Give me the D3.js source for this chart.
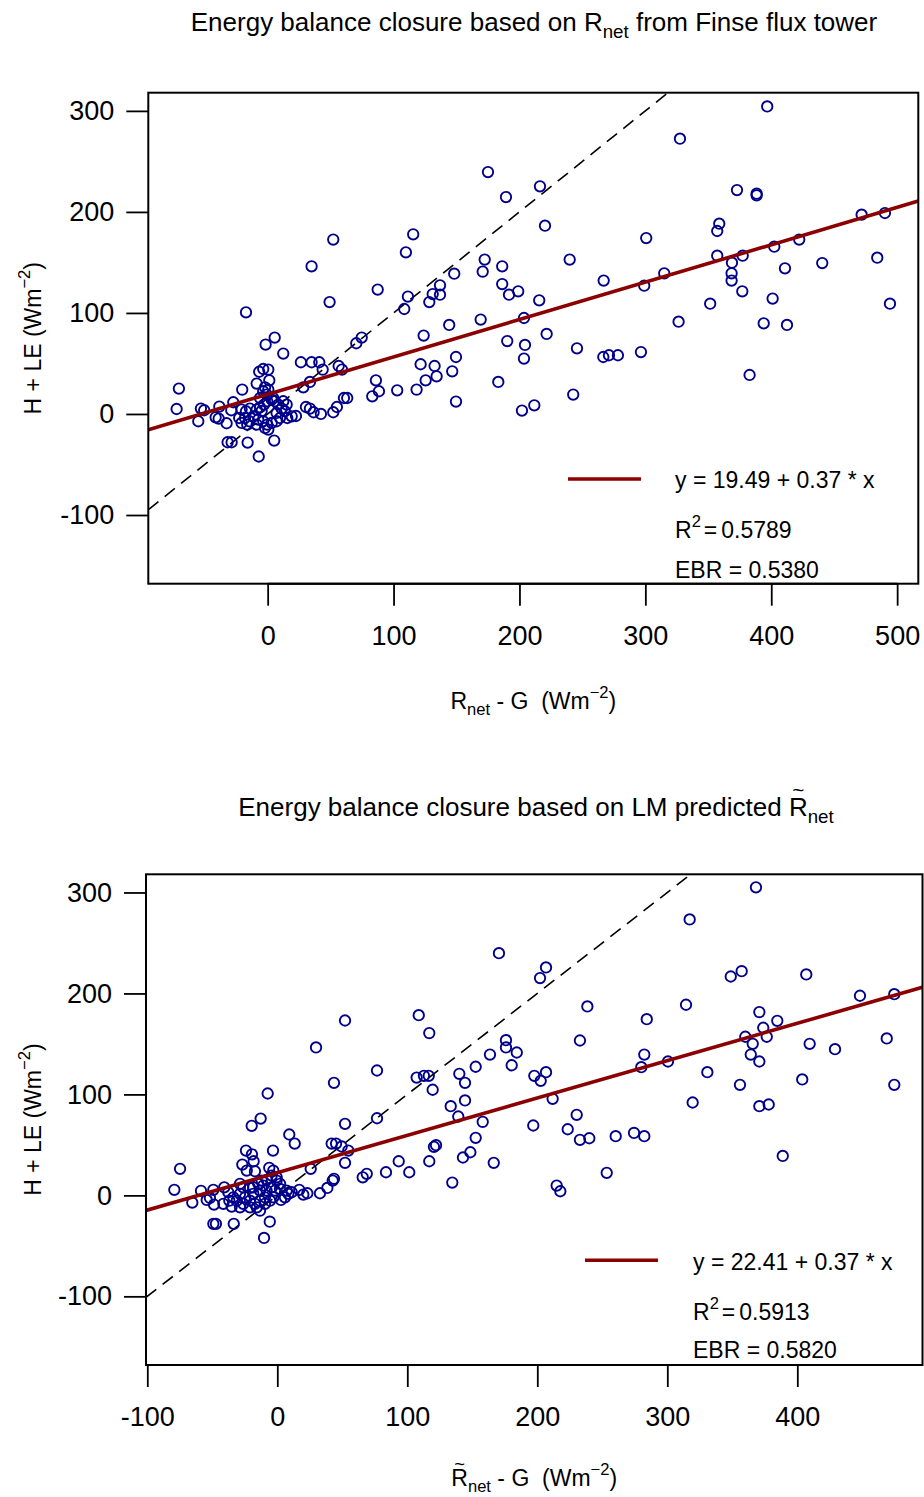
<!DOCTYPE html>
<html>
<head>
<meta charset="utf-8">
<script src="https://cdn.jsdelivr.net/npm/d3@7"></script>
<style>
body { margin: 0; background: #fff; }
svg text { font-family: "Liberation Sans", Arial, sans-serif; white-space: pre; }
</style>
</head>
<body>
<div id="chart"></div>
<script>
var svgWidth = 924;
var svgHeight = 1497;

// tick values
var xTicksTop = [0, 100, 200, 300, 400, 500];
var xTicksBottom = [-100, 0, 100, 200, 300, 400];
var yTicks = [-100, 0, 100, 200, 300];

// axis limits (R style, 4% padded)
var xLimTop = [-94.8, 516.8];
var xLimBottom = [-101, 496.3];
var yLim = [-168, 318];

// regression fits: intercept, slope
var fitTop = [19.49, 0.37];
var fitBottom = [22.41, 0.37];

// R2, EBR
var statsTop = ["0.5789", "0.5380"];
var statsBottom = ["0.5913", "0.5820"];

// [Rnet - G, H + LE] from flux tower
var finsePoints = [[396.8,304.4],[327.5,272.5],[175.0,239.4],[216.3,225.3],[189.3,214.7],[372.8,221.6],[388.4,218.1],[388.4,216.4],
  [115.6,177.8],[109.8,160.0],[52.1,172.6],[34.9,146.1],[49.2,110.8],[87.4,123.1],[-17.2,100.6],[172.4,152.8],[170.8,140.9],
  [186.3,146.1],[186.3,128.6],[191.7,118.1],[199.0,121.4],[148.2,138.9],[136.9,127.3],[136.9,118.1],[131.1,118.7],[128.4,110.8],
  [111.4,116.2],[108.5,103.9],[215.7,112.5],[144.2,88.1],[169.2,93.4],[123.9,77.6],[203.6,95.0],[190.3,72.2],[204.4,68.3],
  [203.6,54.8],[149.6,56.4],[121.5,49.2],[132.6,47.5],[134.2,37.3],[146.6,42.2],[125.5,33.3],[183.2,31.7],[86.0,33.3],
  [74.7,75.6],[70.4,70.0],[5.6,75.6],[-1.6,68.7],[12.4,59.8],[26.4,51.2],[34.9,51.2],[41.0,51.2],[43.7,43.9],[56.4,47.5],
  [59.0,43.9],[-3.5,44.5],[0.5,43.9],[-6.7,41.8],[1.3,33.3],[-8.7,30.1],[33.6,31.7],[28.3,26.4],[-70.5,25.1],[-20.2,24.1],
  [88.4,22.5],[102.9,23.4],[118.3,24.1],[220.3,186.4],[300.7,174.1],[239.9,152.8],[266.9,132.0],[315.0,139.2],[299.1,127.0],
  [358.7,188.4],[357.1,181.1],[357.1,156.7],[368.8,149.8],[377.3,156.7],[368.5,139.2],[368.5,132.0],[377.0,121.4],[402.4,165.6],
  [422.2,172.6],[410.9,144.2],[440.5,149.4],[471.8,197.3],[490.3,198.9],[484.2,154.7],[401.1,114.2],[351.5,109.2],[494.3,109.2],
  [326.4,91.4],[394.0,89.7],[412.5,88.1],[221.6,79.2],[245.7,65.0],[266.6,56.4],[271.1,58.1],[278.2,58.1],[296.5,61.3],
  [382.8,38.6],[242.7,19.2],[202.0,3.4],[211.8,8.6],[149.6,12.3],[83.1,17.5],[-72.3,4.9],[-53.0,5.3],[-50.4,3.7],[-55.1,-7.2],
  [-38.4,7.3],[-41.3,-3.3],[-38.9,-4.6],[-32.6,-9.2],[-27.3,11.6],[-28.9,3.7],[-31.8,-28.0],[-28.6,-28.0],[-15.9,-28.3],
  [-7.1,-42.1],[5.2,-26.3],[22.5,-2.0],[30.4,6.9],[33.6,5.3],[36.5,1.7],[42.3,0.0],[52.1,1.7],[55.0,6.9],[60.6,15.8],[63.2,15.8],
  [-2.1,26.4],[0.5,24.1],[-3.5,22.5],[-20.7,4.4],[-17.2,2.7],[-14.1,5.3],[-8.7,4.4],[-6.1,6.6],[-2.9,9.3],[-0.3,12.6],[3.2,14.2],
  [5.8,12.6],[8.4,9.3],[11.1,5.3],[13.7,2.7],[15.6,-4.0],[-18.0,-4.0],[-14.6,-7.2],[-20.7,-8.9],[-11.4,-2.3],[-7.5,-5.5],
  [-3.5,-7.2],[-0.3,-10.5],[3.2,-8.9],[7.1,-7.2],[9.8,-4.0],[-2.1,-13.9],[-8.7,-10.5],[0.5,-15.4],[-16.2,-10.5],[-22.6,-4.0],
  [7.1,1.0],[-6.1,15.8],[-0.8,19.2],[4.4,15.8],[12.4,12.6],[15.1,9.3],[19.1,-2.3],[-4.8,3.0]];

// [LM predicted Rnet - G, H + LE]
var lmPoints = [[170.5,239.9],[202.1,215.2],[206.7,225.8],[108.8,178.5],[116.9,160.7],[52.1,173.2],[29.8,146.5],[43.6,111.5],
  [76.7,123.7],[-7.4,100.9],[175.9,153.7],[175.9,146.5],[184.2,141.5],[180.3,128.9],[163.6,139.5],[152.6,127.4],[140.0,120.4],
  [144.4,111.5],[107.2,116.7],[112.8,118.4],[116.5,118.4],[119.5,104.6],[197.7,118.4],[202.6,113.5],[133.4,88.3],[144.4,94.0],
  [139.2,78.1],[158.0,72.8],[196.9,69.2],[152.6,57.0],[148.5,42.7],[142.8,37.5],[166.5,32.2],[120.5,48.1],[122.1,49.7],
  [116.9,33.8],[93.4,33.8],[76.7,76.4],[52.1,70.9],[52.1,32.2],[41.8,51.3],[45.2,51.3],[49.5,48.4],[54.6,44.4],[-12.8,76.1],
  [-19.7,68.9],[9.2,60.3],[13.4,51.3],[-3.3,44.4],[-24.1,44.4],[-19.5,40.7],[-18.2,33.8],[-26.9,30.5],[-74.8,26.3],[-6.2,27.3],
  [-79.2,5.5],[-58.7,4.5],[-49.2,5.5],[-40.8,8.0],[-65.4,-7.1],[-54.3,-4.5],[-51.8,-2.5],[-48.7,-9.1],[-41.5,-8.4],[-36.9,-5.2],
  [-35.1,-11.1],[-49.2,-28.2],[-47.2,-28.2],[-33.5,-28.2],[-10.2,-42.1],[-5.8,-26.0],[-23.5,24.6],[-17.2,23.9],[-3.1,24.6],
  [-4.3,19.6],[2.1,6.4],[7.2,4.8],[11.1,3.1],[16.9,5.5],[20.0,0.8],[23.1,2.1],[32.8,2.1],[38.5,7.4],[42.6,14.7],[43.6,16.4],
  [25.7,26.3],[65.7,17.9],[68.8,21.3],[83.6,22.9],[101.5,22.9],[134.6,12.7],[2.8,-4.5],[5.9,-1.9],[8.5,1.5],[368.2,305.1],
  [317.2,273.3],[348.8,216.8],[357.2,222.1],[406.9,218.8],[238.5,187.1],[284.2,174.5],[314.4,188.8],[448.2,197.7],[474.6,199.3],
  [370.8,181.5],[384.6,172.9],[373.8,166.0],[360.0,157.1],[365.7,150.1],[376.5,157.1],[364.2,139.5],[370.8,132.6],[409.5,150.1],
  [429.0,144.8],[468.8,155.4],[232.8,153.4],[282.3,139.5],[280.0,127.0],[300.5,132.6],[330.8,122.0],[355.9,109.5],[403.8,114.8],
  [474.6,109.5],[206.7,122.0],[211.8,95.6],[319.5,92.0],[370.8,88.3],[378.0,90.0],[230.3,79.8],[223.4,65.5],[232.8,55.0],
  [240.0,56.6],[260.3,58.6],[274.4,61.9],[282.3,58.6],[388.8,39.1],[253.4,22.3],[214.9,9.7],[217.7,4.1],[-28.7,1.5],[-24.8,-1.9],
  [-21.0,-5.2],[-17.2,-8.4],[-13.3,-5.2],[-9.5,-1.9],[-5.6,-5.2],[-3.1,-1.9],[-26.2,-8.4],[-31.2,-5.2],[-18.5,1.5],[-13.3,4.8],
  [-8.2,4.8],[-4.3,8.0],[-10.8,9.7],[-18.5,8.0],[-15.8,-11.8],[-1.8,4.8],[2.1,11.4],[-0.5,17.9],[-28.7,11.4],[-26.2,8.0],
  [-21.0,7.4],[-14.6,11.4],[-12.0,14.7],[-8.2,15.4],[-0.5,14.7],[-28.7,-11.8],[-21.0,-11.8],[-9.5,-8.4],[-33.8,-1.9],[-37.7,3.1],
  [-13.3,-15.1]];

var pointColor = "#00008B";
var fitColor = "#8B0000";
var tickFont = 27;
var labFont = 23;
var titleFont = 26;

var svg = d3.select("#chart")
  .append("svg")
  .attr("width", svgWidth)
  .attr("height", svgHeight)
  .style("background", "#fff");

// text with sub / superscript pieces
function richText(sel, parts, size) {
  var shift = 0;
  parts.forEach(function(p) {
    var t = sel.append("tspan").text(p[0]);
    var target = 0;
    if (p[1] == "sub") { target = size * 0.26; t.attr("font-size", size * 0.72); }
    if (p[1] == "sup") { target = -size * 0.48; t.attr("font-size", size * 0.72); }
    if (target != shift) t.attr("dy", target - shift);
    if (p[2]) t.attr("dx", p[2]);
    shift = target;
  });
}

// put a tilde over char i of a text node
function addTilde(g, textSel, i, size) {
  var box = textSel.node().getExtentOfChar(i);
  g.append("text")
    .attr("x", box.x + box.width / 2)
    .attr("y", box.y + size * 0.2)
    .attr("text-anchor", "middle")
    .attr("font-size", size * 0.8)
    .text("~");
}

function drawPanel(o) {
  var g = svg.append("g");
  var x = d3.scaleLinear().domain(o.xLim).range([o.left, o.right]);
  var y = d3.scaleLinear().domain(yLim).range([o.bottom, o.top]);

  // clip for lines
  var clipId = "clip" + o.id;
  svg.append("clipPath").attr("id", clipId)
    .append("rect")
    .attr("x", o.left).attr("y", o.top)
    .attr("width", o.right - o.left).attr("height", o.bottom - o.top);

  // 1:1 line
  g.append("line")
    .attr("clip-path", "url(#" + clipId + ")")
    .attr("x1", x(o.xLim[0])).attr("y1", y(o.xLim[0]))
    .attr("x2", x(o.xLim[1])).attr("y2", y(o.xLim[1]))
    .attr("stroke", "#000")
    .attr("stroke-width", 1.6)
    .attr("stroke-dasharray", "13,8");

  // points
  g.append("g").selectAll("circle")
    .data(o.points)
    .enter()
    .append("circle")
    .attr("cx", d => x(d[0]))
    .attr("cy", d => y(d[1]))
    .attr("r", 5.2)
    .attr("fill", "none")
    .attr("stroke", pointColor)
    .attr("stroke-width", 1.9);

  // regression line
  g.append("line")
    .attr("clip-path", "url(#" + clipId + ")")
    .attr("x1", x(o.xLim[0])).attr("y1", y(o.fit[0] + o.fit[1] * o.xLim[0]))
    .attr("x2", x(o.xLim[1])).attr("y2", y(o.fit[0] + o.fit[1] * o.xLim[1]))
    .attr("stroke", fitColor)
    .attr("stroke-width", 3.6);

  // box
  g.append("rect")
    .attr("x", o.left).attr("y", o.top)
    .attr("width", o.right - o.left).attr("height", o.bottom - o.top)
    .attr("fill", "none")
    .attr("stroke", "#000")
    .attr("stroke-width", 2);

  // x axis
  var xAxis = g.append("g")
    .attr("transform", `translate(0, ${o.bottom})`)
    .call(d3.axisBottom(x).tickValues(o.xTicks).tickSize(22).tickSizeOuter(0).tickPadding(20).tickFormat(d => String(d)));
  xAxis.select(".domain").remove();
  xAxis.selectAll(".tick line").attr("stroke-width", 1.8);
  xAxis.selectAll("text").attr("font-size", tickFont).attr("fill", "#000")
    .attr("font-family", "Liberation Sans, Arial, sans-serif");
  xAxis.append("line")
    .attr("x1", x(o.xTicks[0])).attr("x2", x(o.xTicks[o.xTicks.length - 1]))
    .attr("stroke", "#000").attr("stroke-width", 2);

  // y axis
  var yAxis = g.append("g")
    .attr("transform", `translate(${o.left}, 0)`)
    .call(d3.axisLeft(y).tickValues(yTicks).tickSize(22).tickSizeOuter(0).tickPadding(12).tickFormat(d => String(d)));
  yAxis.select(".domain").remove();
  yAxis.selectAll(".tick line").attr("stroke-width", 1.8);
  yAxis.selectAll("text").attr("font-size", tickFont).attr("fill", "#000")
    .attr("font-family", "Liberation Sans, Arial, sans-serif");

  // title
  var title = g.append("text")
    .attr("x", o.titleX).attr("y", o.titleY)
    .attr("text-anchor", "middle")
    .attr("font-size", titleFont);
  richText(title, o.titleParts, titleFont);
  if (o.titleTilde != null) addTilde(g, title, o.titleTilde, titleFont);

  // x label
  var xlab = g.append("text")
    .attr("x", (o.left + o.right) / 2).attr("y", o.xlabY)
    .attr("text-anchor", "middle")
    .attr("font-size", labFont);
  richText(xlab, o.xlabParts, labFont);
  if (o.xlabTilde != null) addTilde(g, xlab, o.xlabTilde, labFont);

  // y label
  var ylab = g.append("text")
    .attr("transform", `translate(${o.ylabX}, ${(o.top + o.bottom) / 2}) rotate(-90)`)
    .attr("text-anchor", "middle")
    .attr("font-size", labFont);
  richText(ylab, [["H + LE (Wm", ""], ["\u22122", "sup"], [")", ""]], labFont);

  // legend
  g.append("line")
    .attr("x1", o.legLine[0]).attr("x2", o.legLine[1])
    .attr("y1", o.legLine[2]).attr("y2", o.legLine[2])
    .attr("stroke", fitColor).attr("stroke-width", 3.6);
  g.append("text")
    .attr("x", o.legX).attr("y", o.legY[0])
    .attr("font-size", labFont)
    .text("y = " + o.fit[0].toFixed(2) + " + " + o.fit[1].toFixed(2) + " * x");
  var r2 = g.append("text")
    .attr("x", o.legX).attr("y", o.legY[1])
    .attr("font-size", labFont);
  richText(r2, [["R", ""], ["2", "sup"], ["=", "", 3], [o.stats[0], "", 4]], labFont);
  g.append("text")
    .attr("x", o.legX).attr("y", o.legY[2])
    .attr("font-size", labFont)
    .text("EBR = " + o.stats[1]);
}

drawPanel({
  id: 1,
  left: 148.3, right: 918.3, top: 92.7, bottom: 583.7,
  xLim: xLimTop, xTicks: xTicksTop,
  points: finsePoints, fit: fitTop, stats: statsTop,
  titleX: 534, titleY: 31,
  titleParts: [["Energy balance closure based on R", ""], ["net", "sub"], [" from Finse flux tower", ""]],
  xlabY: 709,
  xlabParts: [["R", ""], ["net", "sub"], [" - G  (Wm", ""], ["\u22122", "sup"], [")", ""]],
  ylabX: 41,
  legLine: [568, 641, 479], legX: 675, legY: [488, 538, 577.5]
});

drawPanel({
  id: 2,
  left: 146, right: 922.5, top: 874.3, bottom: 1365,
  xLim: xLimBottom, xTicks: xTicksBottom,
  points: lmPoints, fit: fitBottom, stats: statsBottom,
  titleX: 536, titleY: 816,
  titleParts: [["Energy balance closure based on LM predicted R", ""], ["net", "sub"]],
  titleTilde: 45,
  xlabY: 1486,
  xlabParts: [["R", ""], ["net", "sub"], [" - G  (Wm", ""], ["\u22122", "sup"], [")", ""]],
  xlabTilde: 0,
  ylabX: 41,
  legLine: [585, 658, 1260.3], legX: 693, legY: [1270, 1320, 1358.3]
});
</script>
</body>
</html>
